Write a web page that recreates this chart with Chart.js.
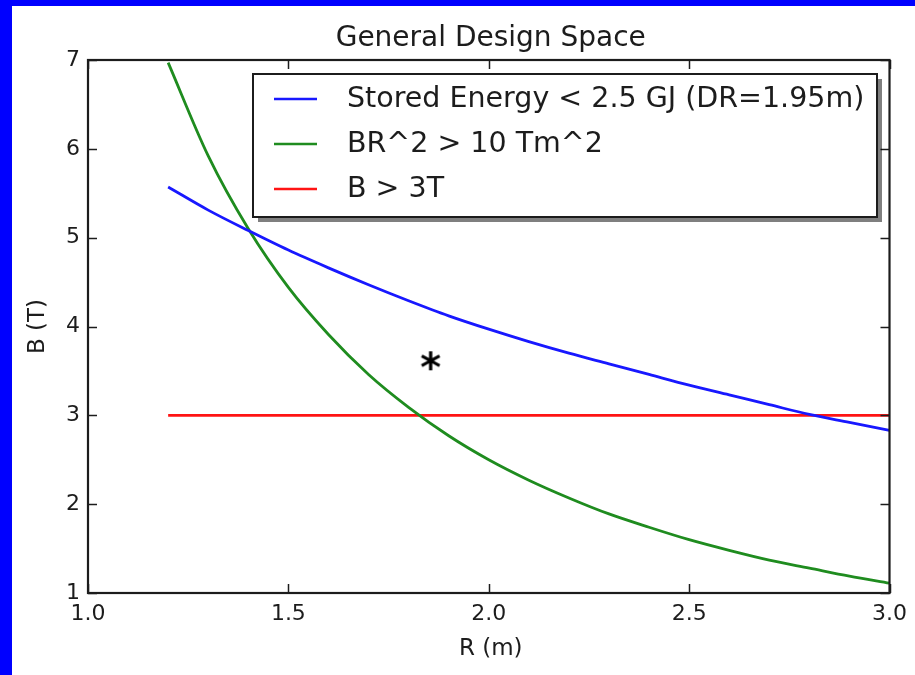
<!DOCTYPE html>
<html>
<head>
<meta charset="utf-8">
<script src="https://cdn.jsdelivr.net/npm/chart.js@4"></script>
<style>
  html, body { margin: 0; padding: 0; width: 915px; height: 675px; overflow: hidden; background: #0000ff; }
  #wrap { position: absolute; left: 12px; top: 6px; width: 903px; height: 669px; background: #ffffff; }
  canvas { display: block; }
</style>
</head>
<body>
<div id="wrap"><canvas id="c" width="903" height="669"></canvas></div>
<script>
// Coil radius R (m) at which each curve is sampled
const radius = [1.2, 1.3, 1.4, 1.5, 1.6, 1.7, 1.8, 1.9, 2.0, 2.1, 2.2, 2.3, 2.4, 2.5, 2.6, 2.7, 2.8, 2.9, 3.0];
// Field limit from the stored-energy cap (2.5 GJ, DR = 1.95 m)
const storedEnergyB = [5.57, 5.31, 5.08, 4.86, 4.66, 4.47, 4.29, 4.12, 3.97, 3.83, 3.70, 3.58, 3.46, 3.34, 3.23, 3.12, 3.01, 2.92, 2.83];
// Field needed for BR^2 = 10 Tm^2
const bendingB = [6.97, 5.92, 5.10, 4.44, 3.91, 3.46, 3.09, 2.77, 2.50, 2.27, 2.07, 1.89, 1.74, 1.60, 1.48, 1.37, 1.28, 1.19, 1.11];
// Minimum field line B = 3 T
const minFieldR = [1.2, 3.0];
const minFieldB = [3, 3];
// Chosen design point
const designR = [1.855];
const designB = [3.62];

const seriesLabels = ['Stored Energy < 2.5 GJ (DR=1.95m)', 'BR^2 > 10 Tm^2', 'B > 3T'];
const seriesColors = ['#1818ff', '#1f8c1f', '#ff1414'];
const xTicks = [1.0, 1.5, 2.0, 2.5, 3.0];
const yTicks = [1, 2, 3, 4, 5, 6, 7];
const titleText = 'General Design Space';
const xTitle = 'R (m)';
const yTitle = 'B (T)';

const FONT = "'DejaVu Sans', 'Liberation Sans', sans-serif";
const INK = '#1c1c1c';

function pts(xs, ys) { return xs.map((x, i) => ({ x: x, y: ys[i] })); }

// Asterisk marker rendered from the font glyph
function makeStar() {
  const cv = document.createElement('canvas');
  cv.width = 30; cv.height = 30;
  const g = cv.getContext('2d');
  g.fillStyle = '#000';
  g.font = '600 40px ' + FONT;
  const m = g.measureText('*');
  const w = m.actualBoundingBoxRight + m.actualBoundingBoxLeft;
  const h = m.actualBoundingBoxAscent + m.actualBoundingBoxDescent;
  g.textBaseline = 'alphabetic';
  g.fillText('*', 15 - w / 2 + m.actualBoundingBoxLeft, 15 + h / 2 - m.actualBoundingBoxDescent);
  return cv;
}

const framePlugin = {
  id: 'frame',
  afterDatasetsDraw(chart) {
    const { ctx, chartArea: a, scales } = chart;
    const len = 9;
    ctx.save();
    ctx.strokeStyle = INK;
    ctx.lineWidth = 1.5;
    ctx.beginPath();
    scales.x.ticks.forEach(t => {
      const px = Math.round(scales.x.getPixelForValue(t.value)) + 0.5;
      ctx.moveTo(px, a.bottom); ctx.lineTo(px, a.bottom - len);
      ctx.moveTo(px, a.top); ctx.lineTo(px, a.top + len);
    });
    scales.y.ticks.forEach(t => {
      const py = Math.round(scales.y.getPixelForValue(t.value)) + 0.5;
      ctx.moveTo(a.left, py); ctx.lineTo(a.left + len, py);
      ctx.moveTo(a.right, py); ctx.lineTo(a.right - len, py);
    });
    ctx.stroke();
    ctx.lineWidth = 2.2;
    ctx.strokeRect(a.left, a.top, a.right - a.left, a.bottom - a.top);

    // Title and axis titles
    ctx.fillStyle = INK;
    ctx.textAlign = 'center';
    ctx.textBaseline = 'middle';
    ctx.font = '28px ' + FONT;
    ctx.fillText(titleText, (a.left + a.right) / 2 + 2, 33);
    ctx.font = '23px ' + FONT;
    ctx.fillText(xTitle, (a.left + a.right) / 2 + 2, 643);
    ctx.save();
    ctx.translate(26, (a.top + a.bottom) / 2);
    ctx.rotate(-Math.PI / 2);
    ctx.fillText(yTitle, 0, 0);
    ctx.restore();

    // Legend with drop shadow
    const L = 241, T = 68, R = 865, B = 211;
    ctx.fillStyle = 'rgba(0,0,0,0.5)';
    ctx.fillRect(L + 5, T + 5, R - L, B - T);
    ctx.fillStyle = '#fff';
    ctx.fillRect(L, T, R - L, B - T);
    ctx.strokeStyle = INK;
    ctx.lineWidth = 2;
    ctx.strokeRect(L, T, R - L, B - T);
    const rows = [93, 138, 183];
    ctx.font = '28.5px ' + FONT;
    ctx.textAlign = 'left';
    ctx.textBaseline = 'middle';
    rows.forEach((y, i) => {
      ctx.strokeStyle = seriesColors[i];
      ctx.lineWidth = 2.5;
      ctx.beginPath();
      ctx.moveTo(262, y); ctx.lineTo(305, y);
      ctx.stroke();
      ctx.fillStyle = INK;
      ctx.fillText(seriesLabels[i], 335, y + 1);
    });
    ctx.restore();
  }
};

new Chart(document.getElementById('c'), {
  type: 'scatter',
  data: {
    datasets: [
      { label: seriesLabels[0], data: pts(radius, storedEnergyB), showLine: true, borderColor: seriesColors[0], borderWidth: 2.8, pointRadius: 0, cubicInterpolationMode: 'monotone' },
      { label: seriesLabels[1], data: pts(radius, bendingB), showLine: true, borderColor: seriesColors[1], borderWidth: 2.8, pointRadius: 0, cubicInterpolationMode: 'monotone' },
      { label: seriesLabels[2], data: pts(minFieldR, minFieldB), showLine: true, borderColor: seriesColors[2], borderWidth: 2.8, pointRadius: 0 },
      { label: 'design', data: pts(designR, designB), showLine: false, pointStyle: makeStar(), pointRadius: 10 }
    ]
  },
  options: {
    responsive: false,
    animation: false,
    devicePixelRatio: 1,
    layout: { padding: { left: 0, top: 54, right: 24, bottom: 0 } },
    plugins: { legend: { display: false }, tooltip: { enabled: false }, title: { display: false } },
    scales: {
      x: {
        type: 'linear', min: 1, max: 3,
        afterBuildTicks: s => { s.ticks = xTicks.map(v => ({ value: v })); },
        afterFit: s => { s.height = 82; },
        grid: { display: false, drawTicks: false },
        border: { display: false },
        ticks: { padding: 8, color: INK, font: { family: FONT, size: 22 }, maxRotation: 0, callback: v => Number(v).toFixed(1) }
      },
      y: {
        type: 'linear', min: 1, max: 7,
        afterBuildTicks: s => { s.ticks = yTicks.map(v => ({ value: v })); },
        afterFit: s => { s.width = 76; },
        grid: { display: false, drawTicks: false },
        border: { display: false },
        ticks: { padding: 8, color: INK, font: { family: FONT, size: 22 }, callback: v => String(v) }
      }
    }
  },
  plugins: [framePlugin]
});
</script>
</body>
</html>
